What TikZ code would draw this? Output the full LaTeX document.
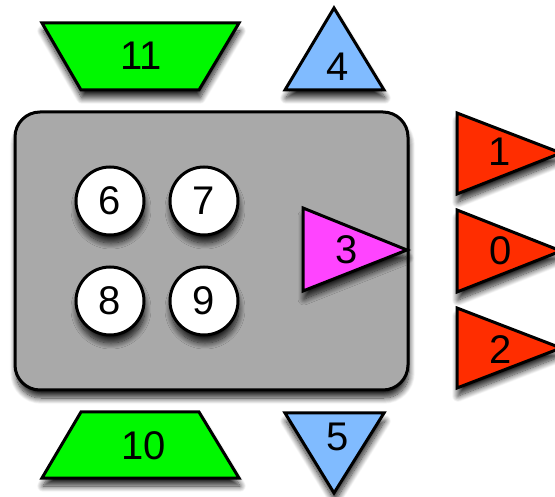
\documentclass[tikz,border=0pt]{standalone}
\usepackage{fontspec}
\setmainfont{Liberation Sans}
\usetikzlibrary{shadows.blur}
\definecolor{cgreen}{HTML}{00F800}
\definecolor{cblue}{HTML}{80BBFF}
\definecolor{cred}{HTML}{FF2D00}
\definecolor{cmag}{HTML}{FF44FF}
\definecolor{cgray}{HTML}{A9A9A9}
\begin{document}
\begin{tikzpicture}[x=1pt,y=-1pt,
  shp/.style={draw=black, line width=3pt, line join=miter,
    blur shadow={shadow xshift=1pt, shadow yshift=-8pt, shadow blur radius=6pt, shadow blur steps=12, shadow opacity=85}},
  lbl/.style={font=\fontsize{40}{42}\selectfont, inner sep=0pt, text=black}]
\useasboundingbox (0,0) rectangle (555,497);
% main rounded box
\path[shp, fill=cgray, rounded corners=25pt] (15,112) rectangle (408,390);
% trapezia
\path[shp, fill=cgreen] (42,23) -- (239,23) -- (199,90) -- (81,90) -- cycle;
\path[shp, fill=cgreen] (81,412) -- (199,412) -- (239,478) -- (42,478) -- cycle;
% blue triangles
\path[shp, fill=cblue] (334,8) -- (384,90) -- (285,90) -- cycle;
\path[shp, fill=cblue] (285,413) -- (384,413) -- (334,493) -- cycle;
% red triangles
\path[shp, fill=cred] (457,113) -- (561,153) -- (457,194) -- cycle;
\path[shp, fill=cred] (457,210) -- (561,251) -- (457,292) -- cycle;
\path[shp, fill=cred] (457,308) -- (561,348) -- (457,388) -- cycle;
% magenta triangle
\path[shp, fill=cmag] (303,208) -- (407,250) -- (303,291) -- cycle;
% circles
\path[shp, fill=white] (110,201) circle[radius=34pt];
\path[shp, fill=white] (204,201) circle[radius=34pt];
\path[shp, fill=white] (110,301) circle[radius=34pt];
\path[shp, fill=white] (204,301) circle[radius=34pt];
% labels
\node[lbl] (n11) at (141,56) {11};
\node[lbl] (n10) at (144,446) {10};
\node[lbl] (n4) at (338,67) {4};
\node[lbl] (n5) at (338,437) {5};
\node[lbl] (n1) at (500,152) {1};
\node[lbl] (n0) at (501,251) {0};
\node[lbl] (n2) at (501,350) {2};
\node[lbl] (n3) at (347,250) {3};
\node[lbl] (n6) at (110,201) {6};
\node[lbl] (n7) at (204,201) {7};
\node[lbl] (n8) at (110,301) {8};
\node[lbl] (n9) at (204,301) {9};
\end{tikzpicture}
\end{document}
